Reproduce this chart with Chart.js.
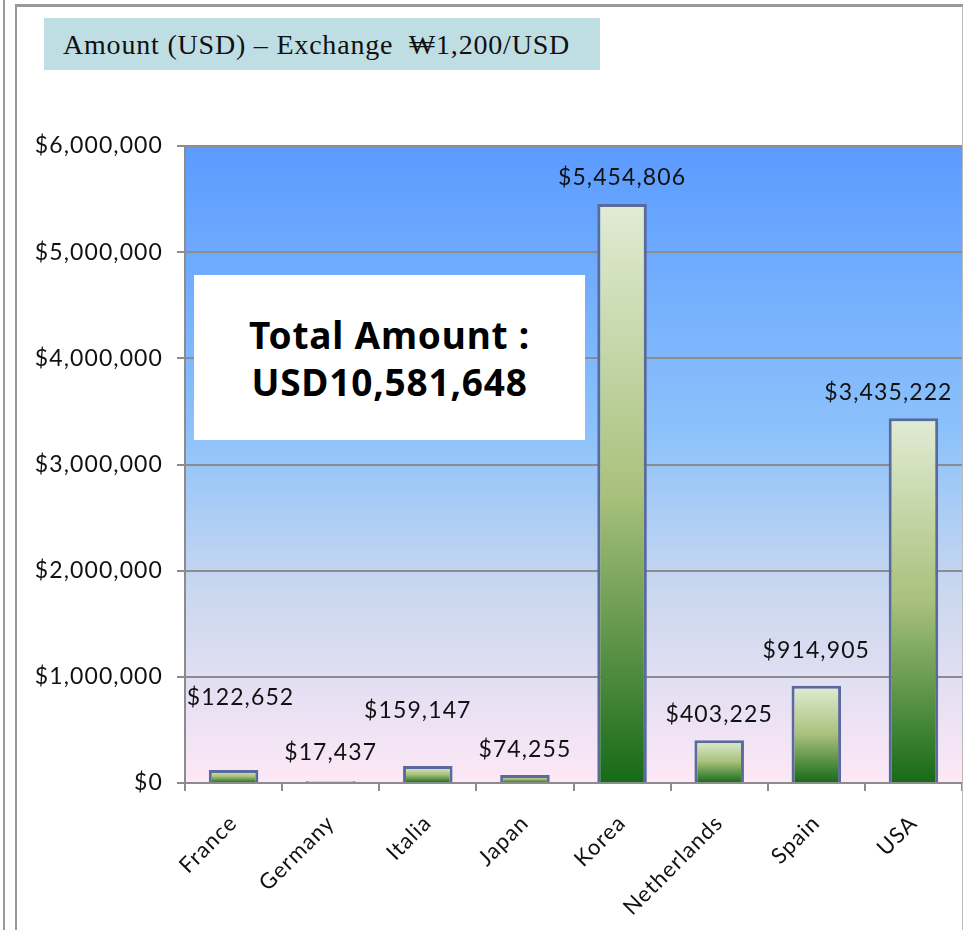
<!DOCTYPE html>
<html>
<head>
<meta charset="utf-8">
<script src="https://cdn.jsdelivr.net/npm/chart.js@4.4.1/dist/chart.umd.min.js"></script>
<style>
  html, body { margin: 0; padding: 0; background: #fff; }
  body { width: 963px; height: 930px; position: relative; overflow: hidden; }
  #outerLine { position: absolute; left: 3px; top: 0; width: 2px; height: 930px; background: #999; }
  #frame { position: absolute; left: 15px; top: 4px; width: 945px; height: 940px;
           border-left: 2px solid #999; border-top: 3px solid #999; border-right: 2px solid #bbb; }
  #title { position: absolute; left: 44px; top: 18px; width: 556px; height: 52px; background: #bfdee3;
           font-family: "Liberation Serif", "DejaVu Serif", serif; font-size: 28px; letter-spacing: 0.8px; color: #111;
           line-height: 54px; padding-left: 19px; box-sizing: border-box; white-space: nowrap; }
  #total { position: absolute; left: 194px; top: 275px; width: 391px; height: 165px; background: #fff;
           font-family: "Noto Sans", sans-serif; font-weight: bold; font-size: 37px; letter-spacing: 0.8px; color: #000;
           text-align: center; line-height: 47px; padding-top: 36px; box-sizing: border-box; z-index: 2; }
  #wrap { position: absolute; left: 17px; top: 7px; width: 945px; height: 923px; }
</style>
</head>
<body>
<div id="outerLine"></div>
<div id="frame"></div>
<div id="wrap"><canvas id="amountChart"></canvas></div>
<div id="title">Amount (USD) – Exchange&nbsp; ₩1,200/USD</div>
<div id="total">Total Amount :<br>USD10,581,648</div>
<script>
// valores do gráfico
const countries = ['France', 'Germany', 'Italia', 'Japan', 'Korea', 'Netherlands', 'Spain', 'USA'];
const amounts = [122652, 17437, 159147, 74255, 5454806, 403225, 914905, 3435222];
const yTicks = [0, 1000000, 2000000, 3000000, 4000000, 5000000, 6000000];

// deslocamento manual dos rótulos (como no Excel)
const labelDx = [7, 0, -10, 0, 0, 0, 0, -25];
const labelDy = [-46, -3, -30, 0, 0, 0, -9, 0];

const money = v => '$' + v.toLocaleString('en-US');

// fundo em degradê da área do gráfico + espaçamento das letras (fonte mais larga)
const plotBackground = {
  id: 'plotBackground',
  beforeDraw(chart) {
    const { ctx, chartArea: a } = chart;
    ctx.letterSpacing = '1.1px';
    const g = ctx.createLinearGradient(0, a.top, 0, a.bottom);
    g.addColorStop(0, '#5b9bff');
    g.addColorStop(0.45, '#8cc2fb');
    g.addColorStop(0.7, '#cad7ef');
    g.addColorStop(1, '#fde8f6');
    ctx.save();
    ctx.fillStyle = g;
    ctx.fillRect(a.left, a.top, a.right - a.left, a.bottom - a.top);
    ctx.restore();
  }
};

// rótulos com os valores em cima das barras
const valueLabels = {
  id: 'valueLabels',
  afterDatasetsDraw(chart) {
    const { ctx } = chart;
    ctx.save();
    ctx.font = '23px Lato, sans-serif';
    ctx.fillStyle = '#111';
    ctx.textAlign = 'center';
    ctx.textBaseline = 'middle';
    chart.getDatasetMeta(0).data.forEach((bar, i) => {
      ctx.fillText(money(amounts[i]), bar.x + labelDx[i], bar.y - 26 + labelDy[i]);
    });
    ctx.restore();
  }
};

const canvas = document.getElementById('amountChart').getContext('2d');
new Chart(canvas, {
  type: 'bar',
  data: {
    labels: countries,
    datasets: [{
      data: amounts,
      backgroundColor(context) {
        const chart = context.chart;
        const y = chart.scales.y;
        if (!y || context.dataIndex === undefined) return '#a6bf78';
        const top = y.getPixelForValue(amounts[context.dataIndex]);
        const bottom = y.getPixelForValue(0);
        if (!isFinite(top) || !isFinite(bottom) || top === bottom) return '#a6bf78';
        const g = chart.ctx.createLinearGradient(0, top, 0, bottom);
        g.addColorStop(0, '#e1ecd5');
        g.addColorStop(0.5, '#a9c17c');
        g.addColorStop(1, '#166a18');
        return g;
      },
      borderColor: '#5a6a9c',
      borderWidth: 3,
      borderSkipped: 'bottom',
      barPercentage: 0.51,
      categoryPercentage: 1
    }]
  },
  options: {
    responsive: true,
    maintainAspectRatio: false,
    animation: false,
    layout: { padding: { top: 139, right: 0, bottom: 0, left: 0 } },
    plugins: {
      legend: { display: false },
      tooltip: { enabled: false }
    },
    scales: {
      x: {
        offset: true,
        grid: { offset: true, drawOnChartArea: false, drawTicks: true, tickLength: 8, color: '#8c8c8c', lineWidth: 2 },
        border: { color: '#8c8c8c', width: 2 },
        ticks: {
          color: '#111',
          font: { family: 'Lato', size: 22 },
          maxRotation: 45,
          minRotation: 45,
          padding: 19
        },
        afterFit(scale) { scale.height = 147; }
      },
      y: {
        min: 0,
        max: 6000000,
        afterBuildTicks(scale) { scale.ticks = yTicks.map(v => ({ value: v })); },
        grid: { color: '#8c8c8c', lineWidth: 2, tickLength: 8 },
        border: { color: '#8c8c8c', width: 2 },
        ticks: {
          color: '#111',
          font: { family: 'Lato', size: 23 },
          padding: 14,
          callback: v => money(v)
        },
        afterFit(scale) { scale.width = 168; }
      }
    }
  },
  plugins: [plotBackground, valueLabels]
});
</script>
</body>
</html>
